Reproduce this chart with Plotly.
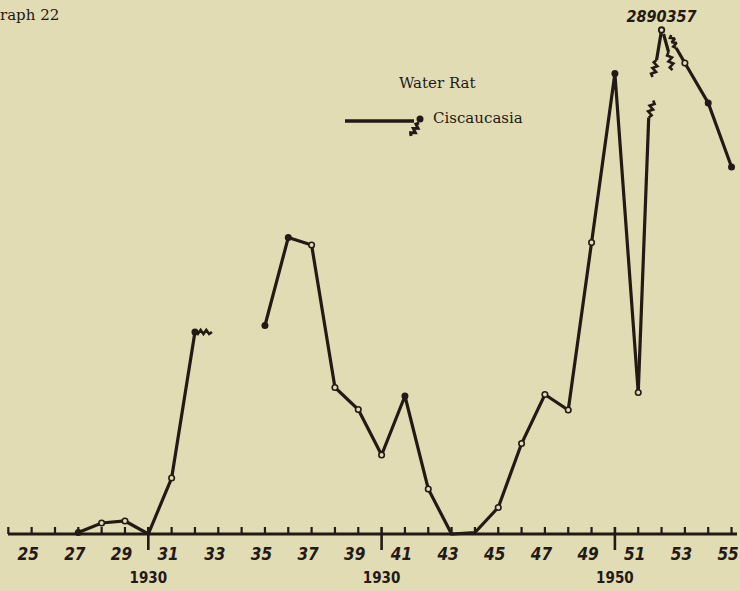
import numpy as np
import plotly.graph_objects as go

# ---- Water rat, Ciscaucasia: yearly index (baseline = 0) ----
years_a = [27, 28, 29, 30, 31, 32]
vals_a = [0.3, 2.2, 2.6, 0.0, 11.2, 40.4]

years_b = [35, 36, 37, 38, 39, 40, 41, 42, 43, 44, 45, 46, 47, 48, 49, 50, 51]
vals_b = [41.7, 59.3, 57.8, 29.3, 24.9, 15.8, 27.6, 9.0, 0.0, 0.3, 5.3, 18.1,
          27.9, 24.8, 58.3, 92.1, 28.3]

peak_year = 52
peak_value = 100.8
peak_label = "2890357"

years_c = [53, 54, 55]
vals_c = [94.2, 86.2, 73.4]

tick_years = list(range(24, 56))
label_years = list(range(25, 56, 2))
label_text = [str(y) for y in label_years]
decade_years = [30, 40, 50]
decade_text = ["1930", "1930", "1950"]

# ---- geometry ----
W, H = 740, 591
X_ORIGIN_PX, X_ORIGIN_YEAR, PX_PER_YEAR = 148.3, 30, 23.33
BASE_PX, PX_PER_UNIT = 534, 5.0
x_range = [X_ORIGIN_YEAR - X_ORIGIN_PX / PX_PER_YEAR,
           X_ORIGIN_YEAR + (W - X_ORIGIN_PX) / PX_PER_YEAR]
y_range = [-(H - BASE_PX) / PX_PER_UNIT, BASE_PX / PX_PER_UNIT]

INK = "#231915"
PAPER = "#e2dcb4"
LW = 3.2
LABEL_SHIFT_PX = -3.5


def px_x(dpx):
    return dpx / PX_PER_YEAR


def px_y(dpx):
    # screen pixels (downward) -> data units (upward)
    return -dpx / PX_PER_UNIT


def squiggle(x0, y0, vx, vy, teeth=4, amp=2.2):
    """Zig-zag break mark starting at (x0, y0), running vx, vy screen pixels."""
    L = np.hypot(vx, vy)
    nx, ny = -vy / L, vx / L
    n = teeth * 2
    xs, ys = [], []
    for i in range(n + 1):
        t = i / n
        s = 0 if i in (0, n) else (amp if i % 2 else -amp)
        xs.append(x0 + px_x(vx * t + nx * s))
        ys.append(y0 + px_y(vy * t + ny * s))
    return xs, ys


def segment(x0, y0, vx, vy):
    return [x0, x0 + px_x(vx)], [y0, y0 + px_y(vy)]


fig = go.Figure()


def ink_line(xs, ys, width=LW):
    fig.add_trace(go.Scatter(x=xs, y=ys, mode="lines", cliponaxis=False,
                             line=dict(color=INK, width=width),
                             hoverinfo="skip", showlegend=False))


# ---- axis line and ticks ----
ink_line([x_range[0] + px_x(8), x_range[1] - px_x(3)], [0, 0], width=3)
for yr in tick_years:
    if yr in decade_years:
        ink_line([yr, yr], [px_y(16), px_y(-7)], width=2.6)
    else:
        ink_line([yr, yr], [0, px_y(-7)], width=2.2)

narrow = "Liberation Sans Narrow, DejaVu Sans Condensed, sans-serif"
fig.add_trace(go.Scatter(
    x=[y + px_x(LABEL_SHIFT_PX) for y in label_years], y=[px_y(22)] * len(label_years),
    mode="text", text=label_text, textposition="middle center", cliponaxis=False,
    textfont=dict(family=narrow, size=17, color=INK, weight="bold", style="italic"),
    hoverinfo="skip", showlegend=False))
fig.add_trace(go.Scatter(
    x=decade_years, y=[px_y(45)] * len(decade_years), mode="text",
    text=decade_text, textposition="middle center", cliponaxis=False,
    textfont=dict(family=narrow, size=15, color=INK, weight="bold"),
    hoverinfo="skip", showlegend=False))

# ---- data lines ----
ink_line(years_a, vals_a)
ink_line(years_b, vals_b)
ink_line(years_c, vals_c)

# break after 1932
sx, sy = squiggle(years_a[-1], vals_a[-1], 17, 0, teeth=3, amp=2.0)
ink_line(sx, sy, width=2.6)

# rise from 1951 toward the off-scale 1952 figure
lx, ly = segment(years_b[-1], vals_b[-1], 10.5, -275)
ink_line(lx, ly)
sx, sy = squiggle(lx[1], ly[1], 4.5, -17, teeth=3)
ink_line(sx, sy, width=2.6)

# 1952 peak with its two broken legs
lx, ly = segment(peak_year, peak_value, -5, 30)
ink_line(lx, ly)
sx, sy = squiggle(lx[1], ly[1], -4, 17, teeth=3)
ink_line(sx, sy, width=2.6)
mx0, my0 = peak_year + px_x(2), peak_value + px_y(4)
lx, ly = segment(mx0, my0, 5, 18)
ink_line(lx, ly)
sx, sy = squiggle(lx[1], ly[1], 4, 18, teeth=3)
ink_line(sx, sy, width=2.6)

# broken lead-in to 1953
sx, sy = squiggle(years_c[0] + px_x(-13.7), vals_c[0] + px_y(-28), 5, 13, teeth=3)
ink_line(sx, sy, width=2.6)
ink_line([sx[-1], years_c[0]], [sy[-1], vals_c[0]])

# ---- point markers ----
filled = {27, 32, 35, 36, 41, 50, 54, 55}
all_x = years_a + years_b + years_c
all_y = vals_a + vals_b + vals_c
fx = [x for x in all_x if x in filled]
fy = [v for x, v in zip(all_x, all_y) if x in filled]
ox = [x for x, v in zip(all_x, all_y) if x not in filled and v > 0.5]
oy = [v for x, v in zip(all_x, all_y) if x not in filled and v > 0.5]
fig.add_trace(go.Scatter(x=fx, y=fy, mode="markers", cliponaxis=False,
                         marker=dict(size=7, color=INK, line=dict(width=0)),
                         hoverinfo="skip", showlegend=False))
fig.add_trace(go.Scatter(x=ox, y=oy, mode="markers", cliponaxis=False,
                         marker=dict(size=5.5, color=PAPER, line=dict(color=INK, width=1.6)),
                         hoverinfo="skip", showlegend=False))
fig.add_trace(go.Scatter(x=[peak_year], y=[peak_value], mode="markers+text",
                         text=[peak_label], textposition="top center", cliponaxis=False,
                         marker=dict(size=5.5, color=PAPER, line=dict(color=INK, width=1.8)),
                         textfont=dict(family=narrow, size=16, color=INK,
                                       weight="bold", style="italic"),
                         hoverinfo="skip", showlegend=False))

# ---- key ----
def to_data(px, py):
    return (x_range[0] + px / PX_PER_YEAR, (BASE_PX - py) / PX_PER_UNIT)


k0 = to_data(345, 121)
k1 = to_data(414, 121)
ink_line([k0[0], k1[0]], [k0[1], k1[1]], width=3.6)
kd = to_data(420, 119)
fig.add_trace(go.Scatter(x=[kd[0]], y=[kd[1]], mode="markers", cliponaxis=False,
                         marker=dict(size=7, color=INK), hoverinfo="skip", showlegend=False))
ks = to_data(419, 123)
sx, sy = squiggle(ks[0], ks[1], -8, 13, teeth=3, amp=2.0)
ink_line(sx, sy, width=3)

serif = "DejaVu Serif, Liberation Serif, serif"
fig.add_annotation(x=437 / W, y=1 - 83 / H, xref="paper", yref="paper",
                   text="Water Rat", showarrow=False, xanchor="center", yanchor="middle",
                   font=dict(family=serif, size=15, color=INK))
fig.add_annotation(x=431 / W, y=1 - 118 / H, xref="paper", yref="paper",
                   text="Ciscaucasia", showarrow=False, xanchor="left", yanchor="middle",
                   font=dict(family=serif, size=15, color=INK))
fig.add_annotation(x=61 / W, y=1 - 15 / H, xref="paper", yref="paper",
                   text="Graph 22", showarrow=False, xanchor="right", yanchor="middle",
                   font=dict(family=serif, size=15, color=INK))

fig.update_layout(
    width=W, height=H, autosize=False,
    margin=dict(l=0, r=0, t=0, b=0, pad=0),
    paper_bgcolor=PAPER, plot_bgcolor=PAPER,
    xaxis=dict(range=x_range, visible=False, fixedrange=True),
    yaxis=dict(range=y_range, visible=False, fixedrange=True),
    showlegend=False,
)

fig.write_html("out.html")
